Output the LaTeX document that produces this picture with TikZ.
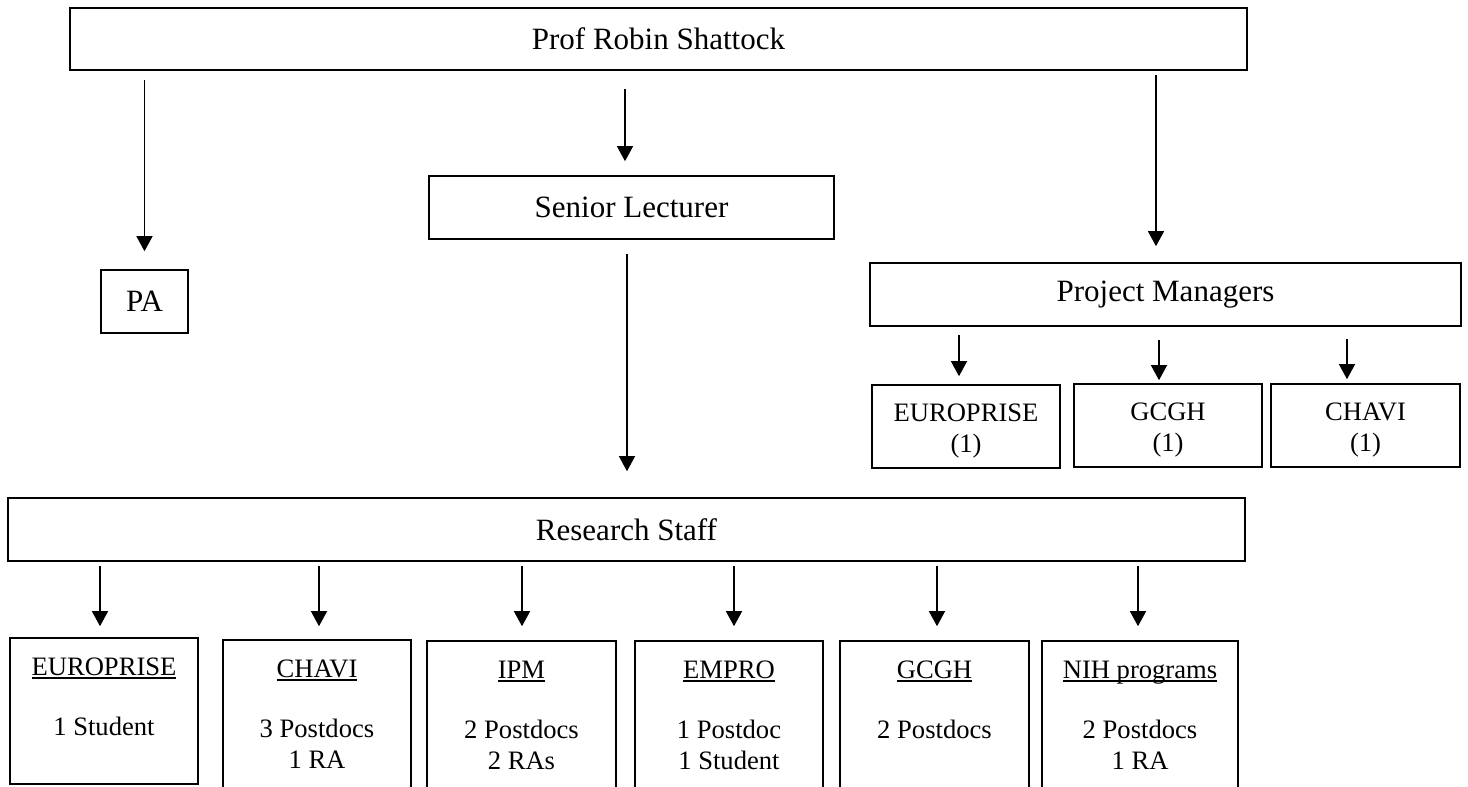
\documentclass[tikz,border=0pt]{standalone}
\usepackage{fontspec}
\setmainfont{Liberation Serif}
\usetikzlibrary{arrows.meta}
\newsavebox{\ulbox}
\newcommand{\ulw}[1]{\sbox{\ulbox}{#1}\rlap{\rule[-3.6pt]{\wd\ulbox}{1.3pt}}\usebox{\ulbox}}
\newcommand{\bigf}{\fontsize{31}{37}\selectfont}
\newcommand{\smallf}{\fontsize{26.6}{31}\selectfont}
% width, height, title, line 1, line 2
\newcommand{\staff}[5]{\begin{minipage}[t][#2][t]{#1}\centering
\vspace*{15.3pt}\strut\ulw{#3}\\[29pt]\strut #4\\\strut #5\end{minipage}}
% width, height, line 1, line 2
\newcommand{\pmtext}[4]{\begin{minipage}[t][#2][t]{#1}\centering
\vspace*{15pt}\strut #3\\\strut #4\end{minipage}}
\begin{document}
\begin{tikzpicture}[x=1pt,y=-1pt,
  box/.style={draw, line width=1.6pt, inner sep=0pt, align=center, font=\bigf},
  sbox/.style={draw, line width=1.6pt, inner sep=0pt, align=center, font=\smallf},
  arr/.style={line width=1.3pt, -{Triangle[width=16pt,length=15pt]}}]
\useasboundingbox (0,0) rectangle (1468,787);
\fill[white] (0,0) rectangle (1468,787);
\clip (0,0) rectangle (1468,787);

% main boxes
\node[box, minimum width=1177, minimum height=62] (top) at (658.5,39) {Prof Robin Shattock};
\node[box, minimum width=87, minimum height=63] (pa) at (144.5,301.5) {PA};
\node[box, minimum width=405, minimum height=63] (sl) at (631.5,207.5) {Senior Lecturer};
\node[box, minimum width=591, minimum height=63] (pm) at (1165.5,294.5) {Project Managers};
\node[box, minimum width=1237, minimum height=63] (rs) at (626.5,529.5) {Research Staff};

% project manager boxes
\node[sbox] (pm1) at (966,426.5) {\pmtext{188pt}{83pt}{EUROPRISE}{(1)}};
\node[sbox] (pm2) at (1168,425.5) {\pmtext{188pt}{83pt}{GCGH}{(1)}};
\node[sbox] (pm3) at (1365.5,425.5) {\pmtext{189pt}{83pt}{CHAVI}{(1)}};

% research staff boxes
\node[sbox] (b1) at (104,711) {\staff{188pt}{146pt}{EUROPRISE}{1 Student}{}};
\node[sbox] (b2) at (317,715) {\staff{188pt}{150pt}{CHAVI}{3 Postdocs}{1 RA}};
\node[sbox] (b3) at (521.5,716) {\staff{189pt}{150pt}{IPM}{2 Postdocs}{2 RAs}};
\node[sbox] (b4) at (729,716) {\staff{188pt}{150pt}{EMPRO}{1 Postdoc}{1 Student}};
\node[sbox] (b5) at (934.5,716) {\staff{189pt}{150pt}{GCGH}{2 Postdocs}{}};
\node[sbox] (b6) at (1140,716) {\staff{196pt}{150pt}{NIH programs}{2 Postdocs}{1 RA}};

% arrow columns
\coordinate (xsl) at (625,0);
\coordinate (xpm) at (1156,0);
\coordinate (xrs) at (627,0);
\coordinate (xp1) at (959,0);
\coordinate (xp2) at (1159,0);
\coordinate (xp3) at (1347,0);
\coordinate (xb1) at (100,0);
\coordinate (xb2) at (319,0);
\coordinate (xb3) at (522,0);
\coordinate (xb4) at (734,0);
\coordinate (xb5) at (937,0);
\coordinate (xb6) at (1138,0);

% connectors
\draw[arr, shorten <=9pt, shorten >=18pt] (top.south -| pa.north) -- (pa.north);
\draw[arr, shorten <=18pt, shorten >=14pt] (top.south -| xsl) -- (sl.north -| xsl);
\draw[arr, shorten <=4pt, shorten >=16pt] (top.south -| xpm) -- (pm.north -| xpm);
\draw[arr, shorten <=14pt, shorten >=26pt] (sl.south -| xrs) -- (rs.north -| xrs);
\draw[arr, shorten <=8pt, shorten >=8pt] (pm.south -| xp1) -- (pm1.north -| xp1);
\draw[arr, shorten <=13pt, shorten >=3pt] (pm.south -| xp2) -- (pm2.north -| xp2);
\draw[arr, shorten <=12pt, shorten >=4pt] (pm.south -| xp3) -- (pm3.north -| xp3);
\draw[arr, shorten <=4pt, shorten >=11pt] (rs.south -| xb1) -- (b1.north -| xb1);
\draw[arr, shorten <=4pt, shorten >=13pt] (rs.south -| xb2) -- (b2.north -| xb2);
\draw[arr, shorten <=4pt, shorten >=14pt] (rs.south -| xb3) -- (b3.north -| xb3);
\draw[arr, shorten <=4pt, shorten >=14pt] (rs.south -| xb4) -- (b4.north -| xb4);
\draw[arr, shorten <=4pt, shorten >=14pt] (rs.south -| xb5) -- (b5.north -| xb5);
\draw[arr, shorten <=4pt, shorten >=14pt] (rs.south -| xb6) -- (b6.north -| xb6);
\end{tikzpicture}
\end{document}
